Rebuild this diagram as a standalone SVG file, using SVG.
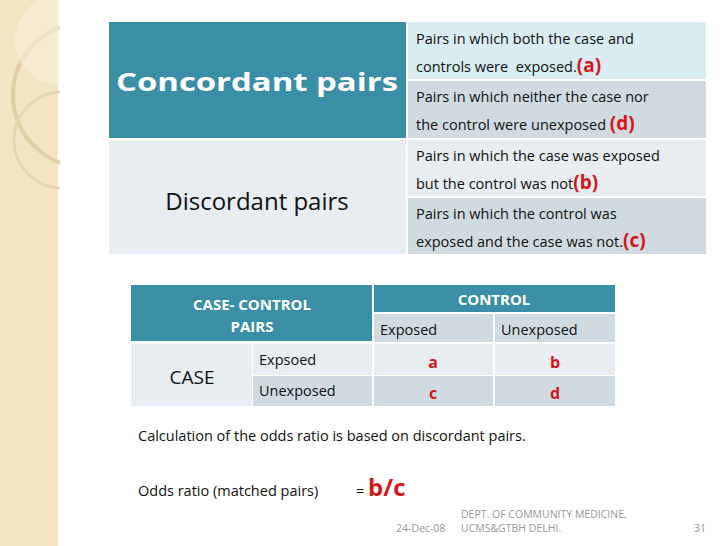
<svg xmlns="http://www.w3.org/2000/svg" width="728" height="546" viewBox="0 0 728 546">
<style>
text{font-family:"Open Sans","DejaVu Sans",sans-serif}
.t{font-size:14.5px;fill:#111}
.r{font-weight:bold;fill:#d7141a}
.teal{fill:#3a8fa6}
.lt{fill:#e7edf0}
.md{fill:#cfdbe1}
.w{fill:#fff;font-weight:bold}
</style>
<defs><clipPath id="strip"><rect width="60" height="546"/></clipPath></defs>
<rect width="728" height="546" fill="#fff"/>
<g id="sidebar">
<rect width="58" height="546" fill="#f3e4c3"/>
<g clip-path="url(#strip)">
<circle cx="85" cy="95" r="72" fill="none" stroke="#e0cfa5" stroke-width="4"/>
<circle cx="62" cy="140" r="48" fill="none" stroke="#e6d6b0" stroke-width="3"/>
<circle cx="60" cy="40" r="45" fill="#f8f0de" opacity="0.6"/>
</g>
</g>
<g id="top-table">
<rect class="teal" x="109" y="22" width="297" height="116"/>
<rect class="lt" x="109" y="140" width="297" height="114"/>
<rect x="408" y="22" width="298" height="57" fill="#d8ecf2"/>
<rect class="md" x="408" y="81" width="298" height="57"/>
<rect class="lt" x="408" y="140" width="298" height="56"/>
<rect class="md" x="408" y="198" width="298" height="56"/>
<text class="w" x="116" y="91" font-size="25" textLength="282" lengthAdjust="spacingAndGlyphs">Concordant pairs</text>
<text x="257" y="210" font-size="24" text-anchor="middle" fill="#111">Discordant pairs</text>
<text class="t" x="416" y="44">Pairs in which both the case and</text>
<text class="t" x="416" y="72" xml:space="preserve">controls were  exposed.<tspan class="r" font-size="19">(a)</tspan></text>
<text class="t" x="416" y="102">Pairs in which neither the case nor</text>
<text class="t" x="416" y="130">the control were unexposed <tspan class="r" font-size="19">(d)</tspan></text>
<text class="t" x="416" y="161">Pairs in which the case was exposed</text>
<text class="t" x="416" y="189">but the control was not<tspan class="r" font-size="19">(b)</tspan></text>
<text class="t" x="416" y="219">Pairs in which the control was</text>
<text class="t" x="416" y="247">exposed and the case was not.<tspan class="r" font-size="19">(c)</tspan></text>
</g>
<g id="bottom-table">
<rect class="teal" x="131" y="285" width="241" height="56"/>
<rect class="teal" x="374" y="285" width="241" height="27"/>
<rect class="md" x="374" y="314" width="119" height="28"/>
<rect class="md" x="495" y="314" width="120" height="28"/>
<rect class="lt" x="131" y="344" width="121" height="62"/>
<rect class="lt" x="253" y="344" width="119" height="31"/>
<rect class="md" x="253" y="376" width="119" height="30"/>
<rect class="lt" x="374" y="344" width="119" height="31"/>
<rect class="lt" x="495" y="344" width="120" height="31"/>
<rect class="md" x="374" y="376" width="119" height="30"/>
<rect class="md" x="495" y="376" width="120" height="30"/>
<text class="w" x="252" y="310" font-size="15" text-anchor="middle">CASE- CONTROL</text>
<text class="w" x="252" y="332" font-size="15" text-anchor="middle">PAIRS</text>
<text class="w" x="494" y="305" font-size="15" text-anchor="middle">CONTROL</text>
<text class="t" x="380" y="335">Exposed</text>
<text class="t" x="501" y="335">Unexposed</text>
<text x="192" y="384" font-size="19" text-anchor="middle" fill="#111">CASE</text>
<text class="t" x="259" y="365">Expsoed</text>
<text class="t" x="259" y="396">Unexposed</text>
<text class="r" x="433" y="368" font-size="16" text-anchor="middle">a</text>
<text class="r" x="555" y="368" font-size="16" text-anchor="middle">b</text>
<text class="r" x="433" y="399" font-size="16" text-anchor="middle">c</text>
<text class="r" x="555" y="399" font-size="16" text-anchor="middle">d</text>
</g>
<g id="notes">
<text class="t" x="138" y="441">Calculation of the odds ratio is based on discordant pairs.</text>
<text class="t" x="138" y="496">Odds ratio (matched pairs)</text>
<text class="t" x="356" y="496">= <tspan class="r" font-size="24">b/c</tspan></text>
<text x="461" y="518" font-size="10.5" fill="#999">DEPT. OF COMMUNITY MEDICINE,</text>
<text x="461" y="532" font-size="10.5" fill="#999">UCMS&amp;GTBH DELHI.</text>
<text x="396" y="532" font-size="10.5" fill="#999">24-Dec-08</text>
<text x="694" y="532" font-size="10.5" fill="#999">31</text>
</g>
</svg>
